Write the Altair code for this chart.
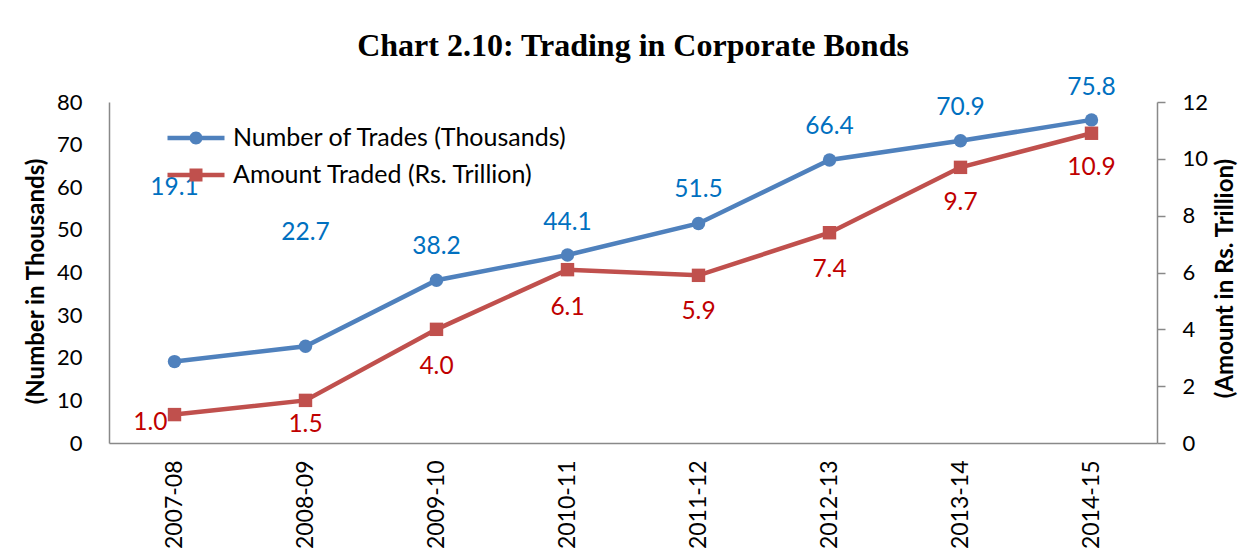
import altair as alt
import pandas as pd

years = ["2007-08", "2008-09", "2009-10", "2010-11", "2011-12", "2012-13", "2013-14", "2014-15"]
trades = [19.1, 22.7, 38.2, 44.1, 51.5, 66.4, 70.9, 75.8]
amount = [1.0, 1.5, 4.0, 6.1, 5.9, 7.4, 9.7, 10.9]
# where each data label sits (in the units of its own axis)
trade_label_at = [59.8, 49.3, 46.0, 51.6, 59.4, 74.1, 78.6, 83.3]
amount_label_at = [0.70, 0.63, 2.67, 4.75, 4.61, 6.09, 8.45, 9.68]

series_names = ["Number of Trades (Thousands)", "Amount Traded (Rs. Trillion)"]
series_colors = ["#4F81BD", "#C0504D"]
label_colors = ["#0070C0", "#C00000"]
legend_paths = [
    "M-1,-0.225L4.7,-0.225L4.7,0.225L-1,0.225Z M1.2,0A0.65,0.65 0 1,1 2.5,0A0.65,0.65 0 1,1 1.2,0Z",
    "M-1,-0.225L4.7,-0.225L4.7,0.225L-1,0.225Z M1.2,-0.65L2.5,-0.65L2.5,0.65L1.2,0.65Z",
]

FONT = "Lato"
AX = "#898989"

df = pd.DataFrame({
    "year": years,
    "trades": trades,
    "amount": amount,
    "trade_lab": trade_label_at,
    "amount_lab": amount_label_at,
    "trades_txt": [f"{v:.1f}" for v in trades],
    "amount_txt": [f"{v:.1f}" for v in amount],
    "idx": list(range(len(years))),
})
legend_df = pd.DataFrame({"series": series_names})

x_enc = alt.X(
    "year:N", sort=years,
    scale=alt.Scale(type="point", padding=0.5),
    axis=alt.Axis(title=None, labelAngle=270, labelFontSize=23, labelPadding=17,
                  ticks=False, domainColor=AX, domainWidth=1.5, labelColor="black",
                  labelFont=FONT),
)

left_scale = alt.Scale(domain=[0, 80], nice=False)
right_scale = alt.Scale(domain=[0, 12], nice=False)

left_axis = alt.Axis(values=list(range(0, 81, 10)), title="(Number in Thousands)",
                     ticks=False, labelPadding=27, labelFontSize=22, labelFont=FONT,
                     labelColor="black", domainColor=AX, domainWidth=1.5,
                     titleAngle=270, titleX=-73, titleY=179, titleBaseline="middle",
                     titleFontSize=24, titleFontWeight="bold", titleFont=FONT,
                     titleColor="black")
right_axis = alt.Axis(orient="right", values=list(range(0, 13, 2)),
                      title="(Amount in Rs. Trillion)", tickSize=8, tickColor=AX,
                      tickWidth=1.5, labelPadding=17, labelFontSize=22, labelFont=FONT,
                      labelColor="black", domainColor=AX, domainWidth=1.5,
                      titleAngle=270, titleX=68, titleY=176, titleBaseline="middle",
                      titleFontSize=24, titleFontWeight="bold", titleFont=FONT,
                      titleColor="black")

base = alt.Chart(df)

left_line = base.mark_line(color=series_colors[0], strokeWidth=4.5).encode(
    x=x_enc, y=alt.Y("trades:Q", scale=left_scale, axis=left_axis))
left_pts = base.mark_point(filled=True, shape="circle", size=180, opacity=1,
                           color=series_colors[0]).encode(
    x=x_enc, y=alt.Y("trades:Q", scale=left_scale, axis=left_axis))
left_txt = base.mark_text(font=FONT, fontSize=24.5, color=label_colors[0],
                          baseline="middle").encode(
    x=x_enc, y=alt.Y("trade_lab:Q", scale=left_scale, axis=left_axis), text="trades_txt:N")

legend_layer = alt.Chart(legend_df).transform_filter("false").mark_point(
    filled=True, opacity=1, size=400, strokeWidth=0).encode(
    color=alt.Color("series:N", scale=alt.Scale(domain=series_names, range=series_colors),
                    legend=alt.Legend(title=None)),
    shape=alt.Shape("series:N", scale=alt.Scale(domain=series_names, range=legend_paths),
                    legend=alt.Legend(title=None)),
)

left = alt.layer(left_line, left_pts, left_txt, legend_layer)

right_line = base.mark_line(color=series_colors[1], strokeWidth=4.5).encode(
    x=x_enc, y=alt.Y("amount:Q", scale=right_scale, axis=right_axis))
right_pts = base.mark_point(filled=True, shape="square", size=180, opacity=1,
                            color=series_colors[1]).encode(
    x=x_enc, y=alt.Y("amount:Q", scale=right_scale, axis=right_axis))
right_txt = base.transform_filter("datum.idx > 0").mark_text(
    font=FONT, fontSize=24.5, color=label_colors[1], baseline="middle").encode(
    x=x_enc, y=alt.Y("amount_lab:Q", scale=right_scale, axis=right_axis), text="amount_txt:N")
right_txt0 = base.transform_filter("datum.idx == 0").mark_text(
    font=FONT, fontSize=24.5, color=label_colors[1], baseline="middle", align="right",
    dx=-7).encode(
    x=x_enc, y=alt.Y("amount_lab:Q", scale=right_scale, axis=right_axis), text="amount_txt:N")

right = alt.layer(right_line, right_pts, right_txt, right_txt0)

chart = alt.layer(left, right).resolve_scale(y="independent").properties(
    width=1048, height=341,
    autosize=alt.AutoSizeParams(type="none"),
    padding={"left": 101, "top": 94, "right": 95, "bottom": 107},
    title=alt.Title("Chart 2.10: Trading in Corporate Bonds", anchor="middle",
                    font="Liberation Serif", fontSize=32, fontWeight="bold",
                    color="black", offset=12),
).configure_axis(grid=False).configure_view(stroke=None).configure_legend(
    orient="none", legendX=56, legendY=23.5, labelFont=FONT, labelFontSize=25,
    labelColor="black", labelOffset=43, rowPadding=11, padding=0, symbolStrokeWidth=0,
    symbolSize=400, labelLimit=0,
)

chart.save("out.html", embed_options={"renderer": "svg", "actions": False})
